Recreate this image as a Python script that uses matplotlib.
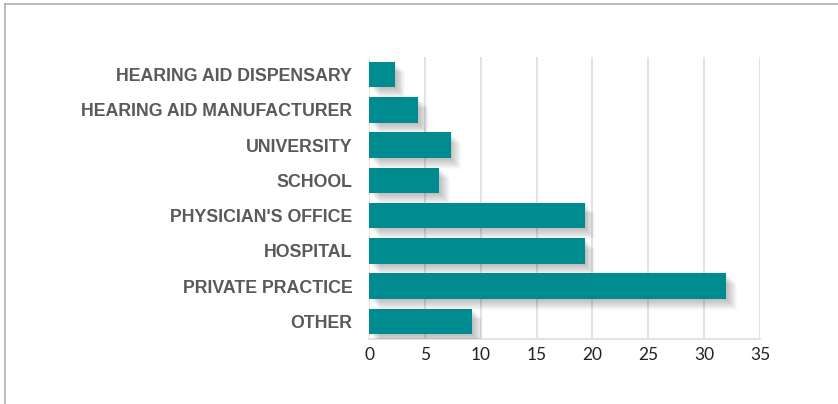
import matplotlib
matplotlib.use("Agg")
import matplotlib.pyplot as plt
import matplotlib.patheffects as pe
from matplotlib.lines import Line2D

# categories, bottom to top as drawn
categories = ["OTHER", "PRIVATE PRACTICE", "HOSPITAL", "PHYSICIAN'S OFFICE",
              "SCHOOL", "UNIVERSITY", "HEARING AID MANUFACTURER",
              "HEARING AID DISPENSARY"]
values = [9.2, 32.0, 19.3, 19.3, 6.3, 7.3, 4.4, 2.3]
xticks = [0, 5, 10, 15, 20, 25, 30, 35]

teal = "#008b91"

fig = plt.figure(figsize=(8.38, 4.04), dpi=100)
ax = fig.add_axes([369/838, 1 - 339/404, (760 - 369)/838, (339 - 57)/404])

# soft shadow: many faint offset copies under each bar
shadow = [pe.SimplePatchShadow(offset=(d * 0.7, -d * 0.7), shadow_rgbFace="black",
                               alpha=0.022) for d in range(1, 12)]
bars = ax.barh(range(len(categories)), values, height=0.73, color=teal, zorder=3)
for b in bars:
    b.set_path_effects(shadow + [pe.Normal()])

ax.set_xlim(0, 35)
ax.set_ylim(-0.5, len(categories) - 0.5)
ax.set_xticks(xticks)
ax.set_yticks(range(len(categories)))
ax.set_yticklabels(categories, fontfamily="Liberation Sans", fontweight="bold",
                   fontsize=12.8, color="#5a5a5a")
for lab in ax.get_xticklabels():
    lab.set_fontfamily("Lato")
    lab.set_fontsize(12.5)
    lab.set_color("#222222")

ax.tick_params(axis="y", length=0, pad=12)
ax.tick_params(axis="x", length=0, pad=6)
ax.grid(axis="x", color="#e3e3e3", linewidth=1.5, zorder=0)
for side in ("top", "right", "left"):
    ax.spines[side].set_visible(False)
ax.spines["bottom"].set_color("#e3e3e3")
ax.spines["bottom"].set_linewidth(1.5)

# thin frame on the top and left of the figure
fig.add_artist(Line2D([5/838, 1], [1 - 4/404, 1 - 4/404], transform=fig.transFigure,
                      color="#b0b0b0", linewidth=1.2))
fig.add_artist(Line2D([5/838, 5/838], [0, 1 - 4/404], transform=fig.transFigure,
                      color="#b0b0b0", linewidth=1.2))

fig.savefig("out.png", dpi=100)
